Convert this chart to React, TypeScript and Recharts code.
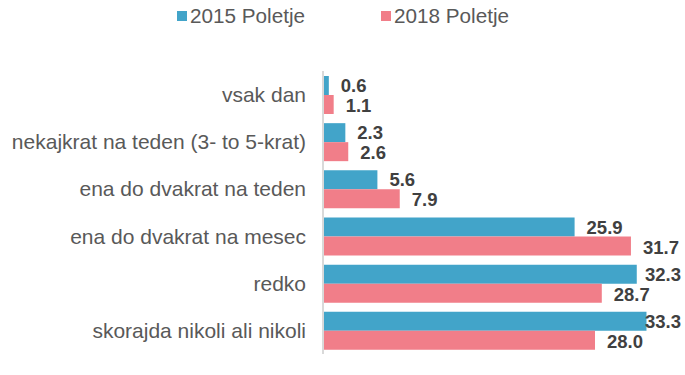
import React from 'react';
import { BarChart, Bar, XAxis, YAxis, LabelList, Legend } from 'recharts';

const categories = [
  'vsak dan',
  'nekajkrat na teden (3- to 5-krat)',
  'ena do dvakrat na teden',
  'ena do dvakrat na mesec',
  'redko',
  'skorajda nikoli ali nikoli',
];
const series2015 = [0.6, 2.3, 5.6, 25.9, 32.3, 33.3];
const series2018 = [1.1, 2.6, 7.9, 31.7, 28.7, 28.0];
const seriesNames = ['2015 Poletje', '2018 Poletje'];

const BLUE = '#42A4C9';
const PINK = '#F17E89';
const COLORS = [BLUE, PINK];

const data = categories.map((c, i) => ({ name: c, s2015: series2015[i], s2018: series2018[i] }));

const FONT = 'Arial, "Liberation Sans", sans-serif';
const LABEL_FS = 18.5;
const RIGHT_LIMIT = 681;

const textWidth = (s: string) => {
  let w = 0;
  for (const ch of s) w += ch === '.' ? 0.278 : 0.556;
  return w * LABEL_FS;
};

const makeLabel = (dy: number) => (props: any) => {
  const { x, y, width, height, value } = props;
  const str = Number(value).toFixed(1);
  const tw = textWidth(str);
  let endX = x + width + 12 + tw;
  if (endX > RIGHT_LIMIT) endX = RIGHT_LIMIT;
  return (
    <text
      x={endX}
      y={y + height / 2 + dy}
      textAnchor="end"
      dominantBaseline="central"
      fontFamily={FONT}
      fontSize={LABEL_FS}
      fontWeight="bold"
      fill="#404040"
    >
      {str}
    </text>
  );
};

const Label2015 = makeLabel(0);
const Label2018 = makeLabel(1);

const LegendContent = () => {
  const lefts = [177, 381];
  return (
    <div style={{ position: 'relative', width: 685, height: 40 }}>
      {seriesNames.map((n, i) => (
        <div
          key={n}
          style={{
            position: 'absolute',
            left: lefts[i],
            top: 4,
            display: 'flex',
            alignItems: 'center',
            fontFamily: FONT,
            fontSize: 20.7,
            color: '#595959',
            whiteSpace: 'nowrap',
          }}
        >
          <span style={{ display: 'inline-block', width: 10, height: 10, background: COLORS[i], marginRight: 3 }} />
          <span>{n}</span>
        </div>
      ))}
    </div>
  );
};

export default function App() {
  return (
    <div style={{ position: 'absolute', left: 0, top: 0, width: 685, height: 375, background: '#fff' }}>
      <BarChart
        width={685}
        height={375}
        data={data}
        layout="vertical"
        margin={{ top: 31, right: 22, bottom: 21, left: 0 }}
        barCategoryGap={5}
        barGap={0}
      >
        <Legend
          verticalAlign="top"
          content={<LegendContent />}
          wrapperStyle={{ top: 0, left: 0, width: 685, height: 40 }}
        />
        <XAxis type="number" domain={[0, 35]} hide />
        <YAxis
          type="category"
          dataKey="name"
          width={323}
          axisLine={{ stroke: '#d9d9d9', strokeWidth: 2 }}
          tickLine={false}
          tickSize={0}
          tickMargin={17}
          tick={{ fontFamily: FONT, fontSize: 21, fill: '#595959' }}
          interval={0}
        />
        <Bar dataKey="s2015" name={seriesNames[0]} fill={BLUE} isAnimationActive={false}>
          <LabelList dataKey="s2015" content={<Label2015 />} />
        </Bar>
        <Bar dataKey="s2018" name={seriesNames[1]} fill={PINK} isAnimationActive={false}>
          <LabelList dataKey="s2018" content={<Label2018 />} />
        </Bar>
      </BarChart>
    </div>
  );
}
